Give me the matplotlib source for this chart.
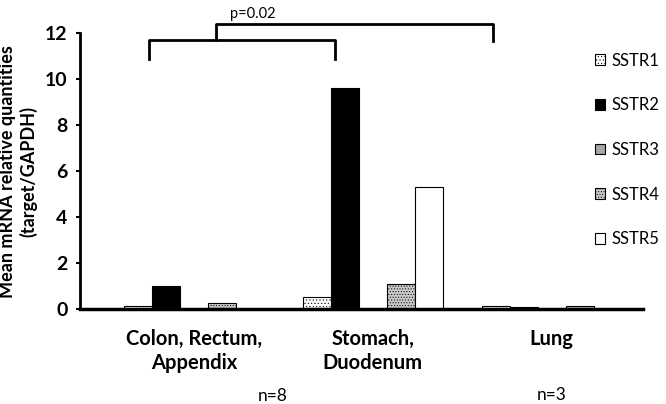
import numpy as np
import matplotlib.pyplot as plt

plt.rcParams['font.family'] = ['Lato', 'DejaVu Sans']
plt.rcParams['hatch.linewidth'] = 0.4

groups = ['Colon, Rectum,\nAppendix', 'Stomach,\nDuodenum', 'Lung']
receptors = ['SSTR1', 'SSTR2', 'SSTR3', 'SSTR4', 'SSTR5']
sstr1 = [0.15, 0.52, 0.15]
sstr2 = [1.0, 9.6, 0.1]
sstr3 = [0.0, 0.0, 0.0]
sstr4 = [0.26, 1.08, 0.15]
sstr5 = [0.0, 5.33, 0.0]
values = [sstr1, sstr2, sstr3, sstr4, sstr5]

faces = ['white', 'black', '#a6a6a6', '#c8c8c8', 'white']
hatches = ['.....', None, None, '......', None]

fig = plt.figure(figsize=(6.66, 4.04), dpi=100)
ax = fig.add_axes([0.12, 0.235, 0.845, 0.683])

x = np.arange(len(groups))
w = 0.156
for i in range(len(receptors)):
    ax.bar(x + (i - 2) * w, values[i], w, color=faces[i], edgecolor='black',
           linewidth=0.8, hatch=hatches[i], label=receptors[i])

ax.set_xlim(-0.637, 2.508)
ax.set_ylim(0, 12)
ax.set_yticks(range(0, 13, 2))
ax.set_xticks(x)
ax.set_xticklabels(groups, fontsize=14.5, fontweight='bold', linespacing=1.3)
ax.tick_params(axis='x', length=0, pad=14)
ax.tick_params(axis='y', length=3, width=1.5, labelsize=14, pad=6)
for t in ax.get_yticklabels():
    t.set_fontweight('bold')
ax.spines['top'].set_visible(False)
ax.spines['right'].set_visible(False)
ax.spines['left'].set_linewidth(2)
ax.spines['bottom'].set_linewidth(2.5)
ax.set_ylabel('Mean mRNA relative quantities\n(target/GAPDH)', fontsize=13,
              fontweight='bold', labelpad=5, linespacing=1.25)

# significance brackets
ax.plot([-0.25, -0.25, 0.79, 0.79], [10.86, 11.72, 11.72, 10.86], color='black',
        lw=2, clip_on=False)
ax.plot([0.123, 0.123, 1.67, 1.67], [11.72, 12.41, 12.41, 11.64], color='black',
        lw=2, clip_on=False)
ax.text(0.33, 12.85, 'p=0.02', ha='center', va='center', fontsize=10.5)

ax.text(0.44, -3.8, 'n=8', ha='center', va='center', fontsize=12.5, clip_on=False)
ax.text(2.0, -3.75, 'n=3', ha='center', va='center', fontsize=12.5, clip_on=False)

fig.legend(loc='upper left', bbox_to_anchor=(0.893, 0.87), frameon=False,
           fontsize=12, labelspacing=1.72, handlelength=0.6, handleheight=0.6,
           handletextpad=0.4, borderaxespad=0, borderpad=0)

fig.savefig('out.png', dpi=100)
